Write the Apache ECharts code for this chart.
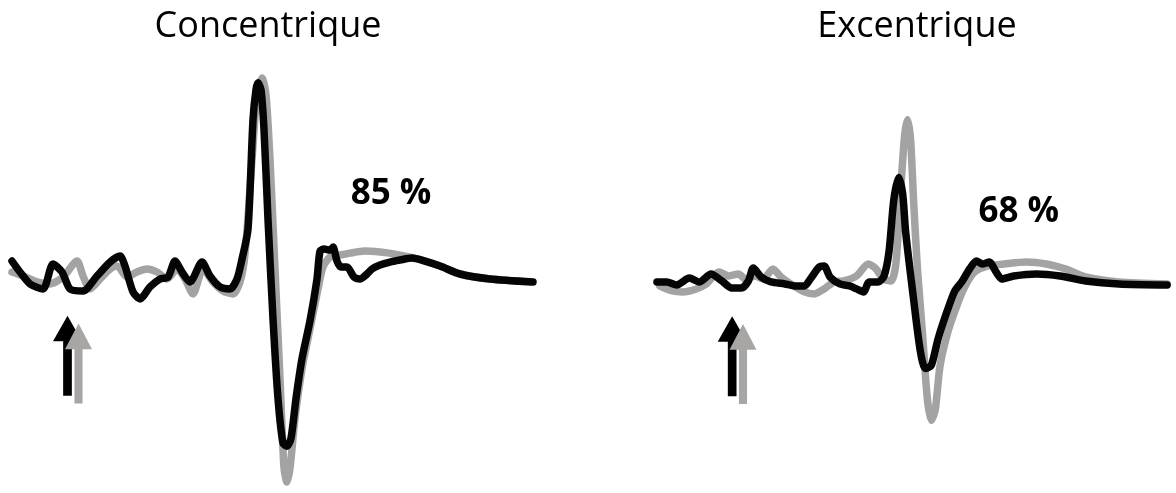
<!DOCTYPE html>
<html>
<head>
<meta charset="utf-8">
<script src="https://cdn.jsdelivr.net/npm/echarts@6/dist/echarts.min.js"></script>
<style>
html,body{margin:0;padding:0;background:#fff;}
#c{width:1176px;height:493px;}
</style>
</head>
<body>
<div id="c"></div>
<script>
// Panel titles and percentage labels
var panelTitles = ['Concentrique', 'Excentrique'];
var panelPercents = ['85 %', '68 %'];
var percentPos = [[38.1, 9.0], [37.0, 7.2]];

// Concentrique: [time, amplitude]
var concBlack = [
  [0.2,2.3],[1.0,1.2],[2.0,0],[3.3,-0.5],[4.3,2.0],[5.2,1.2],[6.0,-0.5],[7.3,-0.7],
  [8.7,0.8],[10.0,2.2],[11.0,2.8],[11.5,1.8],[12.3,-0.8],[13.0,-1.5],[14.0,-0.3],
  [15.0,0.5],[15.8,0.7],[16.5,2.3],[17.2,1.2],[18.0,0.2],[19.2,2.2],[20.0,0.8],
  [21.0,-0.3],[22.0,-0.5],[22.7,0.5],[23.2,2.5],[23.8,5.5],[24.3,16.5],[24.6,19.5],
  [24.8,20.2],[25.1,19.5],[25.4,15.5],[25.8,6.5],[26.3,-3.5],[26.8,-11.5],[27.3,-16.0],
  [27.7,-16.3],[28.1,-15.5],[28.6,-11.5],[29.2,-7.5],[30.0,-3.7],[30.7,0.5],[31.0,3.3],
  [31.4,3.5],[32.0,3.4],[32.3,3.7],[32.7,2.3],[33.1,1.7],[33.7,1.7],[34.4,0.7],[35.0,0.5],
  [35.7,1.0],[36.2,1.5],[37.0,1.9],[38.0,2.2],[39.0,2.4],[40.2,2.6],[41.5,2.3],[43.0,1.8],
  [45.0,1.0],[48.0,0.5],[52.3,0.2]
];
var concGray = [
  [0.2,1.2],[1.3,0.8],[2.7,0.2],[4.0,0],[5.3,0.7],[6.7,2.3],[7.3,0.8],[8.0,-0.5],
  [9.0,0.5],[10.0,1.5],[10.7,1.8],[11.7,0.7],[12.7,1.2],[13.7,1.5],[14.7,1.2],[15.7,0.5],
  [16.7,1.5],[17.5,0.5],[18.3,-1.0],[19.3,1.5],[20.3,0.2],[21.3,-0.7],[22.3,-1.0],
  [23.0,0.2],[23.5,3.0],[24.2,12.5],[24.7,19.0],[25.2,20.7],[25.6,19.0],[26.0,12.5],
  [26.5,1.5],[27.0,-9.5],[27.4,-18.5],[27.7,-19.9],[28.0,-18.5],[28.5,-13.5],[29.2,-8.5],
  [30.0,-4.5],[30.8,-0.5],[31.3,1.7],[32.0,2.7],[33.0,2.9],[34.0,3.1],[35.5,3.3],
  [37.0,3.2],[38.5,3.0],[40.0,2.7],[41.5,2.3],[43.0,1.8],[45.0,1.0],[48.0,0.5],[52.0,0.2]
];

// Excentrique: [time, amplitude]
var excBlack = [
  [0.2,0.2],[1.2,0.2],[2.2,-0.1],[3.5,0.6],[4.5,0.2],[5.7,1.0],[6.8,0.3],[7.8,-0.4],
  [8.8,-0.4],[9.5,0.3],[10.0,1.6],[10.8,0.7],[11.8,0.2],[13.2,0],[14.2,-0.2],[15.2,-0.2],
  [15.8,0.5],[16.7,1.7],[17.2,1.8],[17.8,0.7],[18.8,0],[19.8,-0.2],[20.5,-0.5],[21.2,-0.8],
  [21.8,0.2],[22.7,0.2],[23.3,0.8],[23.8,3.2],[24.3,8.5],[24.8,10.7],[25.2,9.0],[25.5,5.2],
  [26.3,-1.5],[27.0,-6.8],[27.5,-8.5],[28.1,-8.2],[28.8,-5.5],[29.8,-2.5],[30.5,-0.7],
  [31.2,0.2],[32.0,1.5],[32.7,2.3],[33.3,2.0],[34.0,2.2],[34.7,1.2],[35.3,0.5],[36.5,0.8],
  [38.8,1.0],[41.2,0.8],[43.8,0.3],[47.2,0],[52.1,-0.1]
];
var excGray = [
  [0.5,-0.2],[1.8,-0.7],[2.8,-0.8],[4.2,-0.5],[5.2,0],[6.5,1.2],[7.5,0.8],[8.5,1.0],
  [9.2,0.5],[10.2,0.8],[11.0,0.5],[12.0,1.5],[12.8,0.7],[13.8,0],[15.2,-0.8],[16.2,-1.0],
  [17.2,-0.5],[18.2,0.2],[19.2,0.3],[20.5,0.8],[21.7,2.0],[22.5,1.5],[23.2,0.5],[24.0,0.3],
  [24.5,2.0],[25.0,9.5],[25.4,15.0],[25.7,16.5],[26.0,14.5],[26.3,8.5],[26.7,1.5],
  [27.2,-4.8],[27.7,-11.5],[28.1,-13.7],[28.5,-12.7],[29.0,-8.2],[29.8,-4.8],[30.7,-2.2],
  [31.5,-0.3],[32.5,1.2],[33.8,1.8],[35.5,2.0],[37.8,2.2],[39.8,2.0],[41.8,1.5],[43.8,0.7],
  [47.2,0.2],[52.1,0]
];

// Stimulus arrows (centre position) per panel: [black, gray]
var concArrows = [[5.75,-7.2],[6.85,-8.0]];
var excArrows = [[7.85,-7.25],[8.95,-8.05]];

var BLACK = '#050505', GRAY = '#a3a3a3', ARROW_GRAY = '#a8a5a5';
var arrowPath = 'path://M50,0 L100,32 L65,32 L65,100 L35,100 L35,32 L0,32 Z';

function lineSeries(data, color, idx, z) {
  return {
    type: 'line', data: data, xAxisIndex: idx, yAxisIndex: idx,
    showSymbol: false, symbol: 'none', smooth: 0.25, z: z,
    lineStyle: { color: color, width: 7.5, cap: 'round', join: 'round', opacity: 1 },
    silent: true
  };
}
function arrowSeries(arrows, idx) {
  return {
    type: 'scatter', xAxisIndex: idx, yAxisIndex: idx, z: 5, silent: true,
    symbol: arrowPath,
    itemStyle: { opacity: 1 },
    data: [
      { value: arrows[0], symbolSize: [29, 80], itemStyle: { color: '#000', opacity: 1 } },
      { value: arrows[1], symbolSize: [27, 80], itemStyle: { color: ARROW_GRAY, opacity: 1 } }
    ]
  };
}
function pctSeries(pos, text, idx) {
  return {
    type: 'scatter', xAxisIndex: idx, yAxisIndex: idx, z: 6, silent: true,
    symbolSize: 1,
    itemStyle: { opacity: 1, color: 'rgba(0,0,0,0)' },
    data: [{ value: pos }],
    label: { show: true, position: 'inside', formatter: text, color: '#000', opacity: 1,
      fontFamily: 'Open Sans', fontWeight: 'bold', fontSize: 35 }
  };
}

var chart = echarts.init(document.getElementById('c'), null, { renderer: 'canvas' });
var axisCommon = { type: 'value', show: false, splitLine: { show: false } };
var titleStyle = { fontFamily: 'Open Sans', fontWeight: 'normal', fontSize: 36, color: '#000' };
chart.setOption({
  animation: false,
  backgroundColor: '#fff',
  title: [
    { text: panelTitles[0], left: 263, top: 4, textAlign: 'center', textStyle: titleStyle },
    { text: panelTitles[1], left: 912, top: 4, textAlign: 'center', textStyle: titleStyle }
  ],
  grid: [
    { left: 10, top: 55, width: 530, height: 440 },
    { left: 655, top: 55, width: 530, height: 440 }
  ],
  xAxis: [
    Object.assign({ gridIndex: 0, min: 0, max: 53 }, axisCommon),
    Object.assign({ gridIndex: 1, min: 0, max: 53 }, axisCommon)
  ],
  yAxis: [
    Object.assign({ gridIndex: 0, min: -21, max: 23 }, axisCommon),
    Object.assign({ gridIndex: 1, min: -21, max: 23 }, axisCommon)
  ],
  series: [
    lineSeries(concGray, GRAY, 0, 2),
    lineSeries(concBlack, BLACK, 0, 3),
    lineSeries(excGray, GRAY, 1, 2),
    lineSeries(excBlack, BLACK, 1, 3),
    arrowSeries(concArrows, 0),
    arrowSeries(excArrows, 1),
    pctSeries(percentPos[0], panelPercents[0], 0),
    pctSeries(percentPos[1], panelPercents[1], 1)
  ]
});
</script>
</body>
</html>
